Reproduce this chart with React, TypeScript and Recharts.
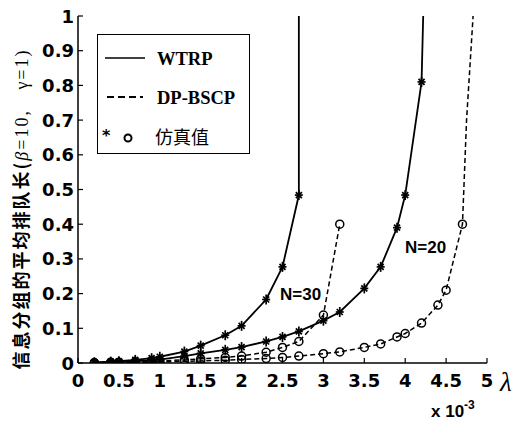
import React from 'react';
import { LineChart, Line, XAxis, YAxis } from 'recharts';

// arrival rate λ (x 10^-3) at which the points were computed / simulated
const LAMBDA = [0.2, 0.4, 0.5, 0.7, 0.9, 1.0, 1.3, 1.5, 1.8, 2.0, 2.3, 2.5, 2.7, 3.0, 3.2, 3.5, 3.7, 3.9, 4.0, 4.2, 4.4, 4.5, 4.7];

// mean queue length
const WTRP_N30 = [0.002, 0.004, 0.005, 0.009, 0.014, 0.018, 0.033, 0.05, 0.08, 0.107, 0.183, 0.277, 0.484];
const DPBSCP_N30 = [0.001, 0.002, 0.002, 0.003, 0.005, 0.006, 0.009, 0.012, 0.016, 0.02, 0.031, 0.045, 0.062, 0.138, 0.4];
const WTRP_N20 = [0.001, 0.002, 0.003, 0.005, 0.008, 0.01, 0.02, 0.028, 0.038, 0.046, 0.062, 0.075, 0.091, 0.122, 0.147, 0.215, 0.277, 0.39, 0.484, 0.81];
const DPBSCP_N20 = [0.0005, 0.001, 0.001, 0.002, 0.003, 0.003, 0.005, 0.006, 0.008, 0.01, 0.013, 0.016, 0.02, 0.027, 0.032, 0.045, 0.055, 0.075, 0.085, 0.115, 0.167, 0.21, 0.4];

// analytic curves keep climbing past the last simulated point
const WTRP_N30_TAIL = [{ x: 2.7, y: 1 }];
const WTRP_N20_TAIL = [{ x: 4.22, y: 1 }];
const DPBSCP_N20_TAIL = [{ x: 4.75, y: 0.7 }, { x: 4.83, y: 1 }];

const X_TICKS = [0, 0.5, 1, 1.5, 2, 2.5, 3, 3.5, 4, 4.5, 5];
const Y_TICKS = [0, 0.1, 0.2, 0.3, 0.4, 0.5, 0.6, 0.7, 0.8, 0.9, 1];

const pts = (vals: number[]) => vals.map((y, i) => ({ x: LAMBDA[i], y }));

const w30 = pts(WTRP_N30);
const d30 = pts(DPBSCP_N30);
const w20 = pts(WTRP_N20);
const d20 = pts(DPBSCP_N20);

const TICK_FONT = { fontFamily: '"DejaVu Sans", sans-serif', fontWeight: 700, fontSize: 18, fill: '#000' };

function BottomTick({ x, y, payload }: any) {
  return (
    <g>
      <line x1={x} x2={x} y1={y} y2={y - 5} stroke="#000" strokeWidth={1.2} />
      <text x={x} y={y + 24} textAnchor="middle" style={TICK_FONT}>{String(payload.value)}</text>
    </g>
  );
}

function LeftTick({ x, y, payload }: any) {
  return (
    <g>
      <line x1={x} x2={x + 5} y1={y} y2={y} stroke="#000" strokeWidth={1.2} />
      <text x={x - 4} y={y + 6.5} textAnchor="end" style={TICK_FONT}>{String(payload.value)}</text>
    </g>
  );
}

function TopTick({ x, y }: any) {
  return <line x1={x} x2={x} y1={y} y2={y + 5} stroke="#000" strokeWidth={1.2} />;
}

function RightTick({ x, y }: any) {
  return <line x1={x} x2={x - 5} y1={y} y2={y} stroke="#000" strokeWidth={1.2} />;
}

function Star(p: any) {
  const { cx, cy } = p;
  if (cx == null || cy == null) return <g key={p.index} />;
  const s = 4;
  return (
    <g key={p.index} stroke="#000" strokeWidth={1.7}>
      <line x1={cx - s} x2={cx + s} y1={cy} y2={cy} />
      <line x1={cx} x2={cx} y1={cy - s - 1} y2={cy + s + 1} />
      <line x1={cx - 3} x2={cx + 3} y1={cy - 3} y2={cy + 3} />
      <line x1={cx - 3} x2={cx + 3} y1={cy + 3} y2={cy - 3} />
    </g>
  );
}

function Ring(p: any) {
  const { cx, cy } = p;
  if (cx == null || cy == null) return <g key={p.index} />;
  return <circle key={p.index} cx={cx} cy={cy} r={4} fill="none" stroke="#000" strokeWidth={1.5} />;
}

export default function App() {
  return (
    <div style={{ position: 'absolute', left: 0, top: 0, width: 519, height: 425, background: '#fff' }}>
      <LineChart width={519} height={425} margin={{ top: 16, right: 32, bottom: 0, left: 0 }}>
        <XAxis
          type="number" dataKey="x" domain={[0, 5]} ticks={X_TICKS} interval={0}
          allowDataOverflow height={62} tickSize={0} tickMargin={0} tickLine={false}
          axisLine={{ stroke: '#000', strokeWidth: 1.5 }} tick={<BottomTick />}
        />
        <XAxis
          xAxisId="top" orientation="top" type="number" domain={[0, 5]} ticks={X_TICKS} interval={0}
          height={0} tickSize={0} tickMargin={0} tickLine={false}
          axisLine={{ stroke: '#000', strokeWidth: 1.5 }} tick={<TopTick />}
        />
        <YAxis
          type="number" domain={[0, 1]} ticks={Y_TICKS} interval={0} allowDataOverflow
          width={78} tickSize={0} tickMargin={0} tickLine={false}
          axisLine={{ stroke: '#000', strokeWidth: 1.5 }} tick={<LeftTick />}
        />
        <YAxis
          yAxisId="right" orientation="right" type="number" domain={[0, 1]} ticks={Y_TICKS} interval={0}
          width={0} tickSize={0} tickMargin={0} tickLine={false}
          axisLine={{ stroke: '#000', strokeWidth: 1.5 }} tick={<RightTick />}
        />

        {/* analytic curves */}
        <Line data={[...w30, ...WTRP_N30_TAIL]} dataKey="y" type="linear" stroke="#000" strokeWidth={1.8} dot={false} isAnimationActive={false} />
        <Line data={[...w20, ...WTRP_N20_TAIL]} dataKey="y" type="linear" stroke="#000" strokeWidth={1.8} dot={false} isAnimationActive={false} />
        <Line data={d30} dataKey="y" type="linear" stroke="#000" strokeWidth={1.5} strokeDasharray="5 3" dot={false} isAnimationActive={false} />
        <Line data={[...d20, ...DPBSCP_N20_TAIL]} dataKey="y" type="linear" stroke="#000" strokeWidth={1.5} strokeDasharray="5 3" dot={false} isAnimationActive={false} />

        {/* simulated points */}
        <Line data={w30} dataKey="y" stroke="none" dot={Star} activeDot={false} isAnimationActive={false} />
        <Line data={w20} dataKey="y" stroke="none" dot={Star} activeDot={false} isAnimationActive={false} />
        <Line data={d30} dataKey="y" stroke="none" dot={Ring} activeDot={false} isAnimationActive={false} />
        <Line data={d20} dataKey="y" stroke="none" dot={Ring} activeDot={false} isAnimationActive={false} />
      </LineChart>

      {/* y axis title */}
      <div style={{
        position: 'absolute', left: 20 - 190, top: 209 - 11, width: 380, height: 22, lineHeight: '22px',
        textAlign: 'center', transform: 'rotate(-90deg)', whiteSpace: 'nowrap',
        fontFamily: '"Noto Sans CJK SC", sans-serif', fontWeight: 700, fontSize: 18, letterSpacing: 2,
      }}>
        信息分组的平均排队长(<span style={{ fontFamily: '"Liberation Serif", serif', fontStyle: 'italic', fontWeight: 400 }}>β</span>
        <span style={{ fontFamily: '"Liberation Serif", serif', fontWeight: 400 }}>=10,&nbsp;&nbsp;&nbsp;γ=1)</span>
      </div>

      {/* legend */}
      <div style={{
        position: 'absolute', left: 97, top: 34, width: 153, height: 120, border: '1.5px solid #000', background: '#fff',
        boxSizing: 'border-box',
      }}>
        <svg width={153} height={120} style={{ position: 'absolute', left: -1.5, top: -1.5 }}>
          <line x1={8} x2={48} y1={24} y2={24} stroke="#000" strokeWidth={1.5} />
          <line x1={10} x2={46} y1={63} y2={63} stroke="#000" strokeWidth={2} strokeDasharray="7 4" />
          <text x={5} y={107} style={{ fontFamily: '"DejaVu Sans", sans-serif', fontWeight: 700, fontSize: 16 }}>*</text>
          <circle cx={31} cy={104} r={3.5} fill="none" stroke="#000" strokeWidth={2} />
          <text x={60} y={31} style={{ fontFamily: '"Liberation Serif", serif', fontWeight: 700, fontSize: 18.5 }}>WTRP</text>
          <text x={60} y={70} style={{ fontFamily: '"Liberation Serif", serif', fontWeight: 700, fontSize: 18.5 }}>DP-BSCP</text>
          <text x={58} y={110} style={{ fontFamily: '"Noto Sans CJK SC", sans-serif', fontWeight: 400, fontSize: 18 }}>仿真值</text>
        </svg>
      </div>

      {/* curve annotations */}
      <div style={{ position: 'absolute', left: 280, top: 285, fontFamily: '"Liberation Sans", sans-serif', fontWeight: 700, fontSize: 17, lineHeight: '20px' }}>N=30</div>
      <div style={{ position: 'absolute', left: 405, top: 238, fontFamily: '"Liberation Sans", sans-serif', fontWeight: 700, fontSize: 17, lineHeight: '20px' }}>N=20</div>

      {/* axis name and exponent */}
      <div style={{ position: 'absolute', left: 500, top: 368, fontFamily: '"Liberation Serif", serif', fontStyle: 'italic', fontSize: 27, lineHeight: '28px' }}>λ</div>
      <div style={{ position: 'absolute', left: 431, top: 402, fontFamily: '"Liberation Sans", sans-serif', fontWeight: 700, fontSize: 17, lineHeight: '20px', whiteSpace: 'nowrap' }}>
        x 10<span style={{ fontSize: 12, position: 'relative', top: -8 }}>-3</span>
      </div>
    </div>
  );
}
